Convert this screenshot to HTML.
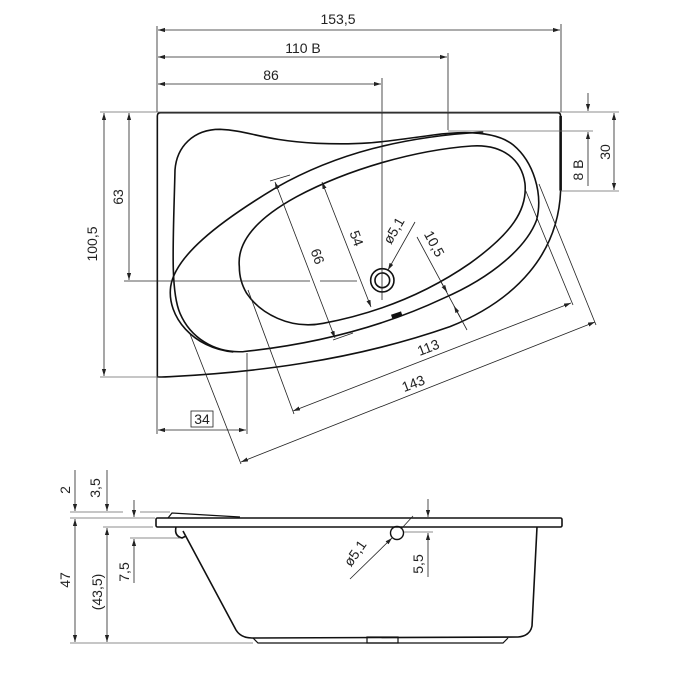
<!DOCTYPE html>
<html><head><meta charset="utf-8"><style>
html,body{margin:0;padding:0;background:#fff;}
svg{display:block}
text{font-family:"Liberation Sans",sans-serif;font-size:14px;fill:#222;}
</style></head><body>
<svg width="688" height="675" viewBox="0 0 688 675" xmlns="http://www.w3.org/2000/svg">
<defs>
<marker id="a" viewBox="0 0 10 10" refX="10" refY="5" markerWidth="7" markerHeight="7" orient="auto-start-reverse" markerUnits="userSpaceOnUse"><path d="M0,2 L10,5 L0,8 z" fill="#222"/></marker>
</defs>

<g transform="translate(150,100) scale(0.3333)" fill="none" stroke="#111" stroke-width="1.6">
<path vector-effect="non-scaling-stroke" d="M22,830 L22,48 Q22,38 32,38 L1222,38 Q1232,38 1232,48"/>
<path vector-effect="non-scaling-stroke" stroke-width="2.6" d="M1232,48 L1232,272"/>
<path vector-effect="non-scaling-stroke" d="M22,830 Q24,832 60,830 C300,818 600,785 900,680 C1100,600 1225,460 1232,272"/>
<path vector-effect="non-scaling-stroke" d="M75,210 C80,140 130,88 210,88 C300,92 330,120 500,130 C650,136 700,125 850,105 C950,92 1040,95 1090,135 C1150,185 1180,280 1160,360 C1130,440 1030,530 880,595 C720,670 520,730 280,755 C190,760 120,710 90,640 C60,570 70,420 75,210 Z"/>
<path vector-effect="non-scaling-stroke" d="M250,756 C130,745 50,650 62,560 C75,470 200,370 380,262 C560,160 760,110 1000,96"/>
<path vector-effect="non-scaling-stroke" d="M268,500 C260,420 330,350 440,290 C600,205 800,150 965,138 C1060,132 1115,180 1125,250 C1133,330 1085,400 960,490 C830,580 680,640 520,670 C420,690 330,640 290,580 C275,555 268,525 268,500 Z"/>
<circle vector-effect="non-scaling-stroke" cx="697" cy="541" r="35"/>
<circle vector-effect="non-scaling-stroke" cx="697" cy="541" r="22"/>
<path vector-effect="non-scaling-stroke" stroke-width="4" d="M725,650 L755,640"/>
</g>

<g stroke="#222" stroke-width="0.8" fill="none">
<line x1="157" y1="26" x2="157" y2="112"/>
<line x1="157" y1="377" x2="157" y2="434"/>
<line x1="561" y1="24" x2="561" y2="112"/>
<line x1="158" y1="30" x2="560" y2="30" marker-start="url(#a)" marker-end="url(#a)"/>
<line x1="158" y1="57" x2="447" y2="57" marker-start="url(#a)" marker-end="url(#a)"/>
<line x1="448" y1="53" x2="448" y2="130"/>
<line x1="158" y1="84" x2="381" y2="84" marker-start="url(#a)" marker-end="url(#a)"/>
<line x1="382" y1="78" x2="382" y2="300"/>
<line x1="100" y1="112" x2="619" y2="112" stroke="#666"/>
<line x1="100" y1="377" x2="157" y2="377" stroke="#666"/>
<line x1="104" y1="113" x2="104" y2="376" marker-start="url(#a)" marker-end="url(#a)"/>
<line x1="129" y1="113" x2="129" y2="280" marker-start="url(#a)" marker-end="url(#a)"/>
<line x1="124" y1="281" x2="310" y2="281"/>
<line x1="320" y1="281" x2="357" y2="281"/>
<line x1="448" y1="131" x2="593" y2="131" stroke="#666"/>
<line x1="561" y1="191" x2="619" y2="191" stroke="#666"/>
<line x1="614" y1="113" x2="614" y2="190" marker-start="url(#a)" marker-end="url(#a)"/>
<line x1="588" y1="93" x2="588" y2="111" marker-end="url(#a)"/>
<line x1="588" y1="186" x2="588" y2="132" marker-end="url(#a)"/>
<line x1="275" y1="182" x2="335" y2="338" marker-start="url(#a)" marker-end="url(#a)"/>
<line x1="270" y1="181" x2="290" y2="175"/>
<line x1="333" y1="340" x2="353" y2="333"/>
<line x1="322" y1="182" x2="371" y2="307" marker-start="url(#a)" marker-end="url(#a)"/>
<line x1="415" y1="222" x2="388" y2="270" marker-end="url(#a)"/>
<line x1="417" y1="237" x2="467" y2="330"/>
<line x1="441" y1="282" x2="447" y2="292" marker-end="url(#a)"/>
<line x1="460" y1="317" x2="454" y2="306" marker-end="url(#a)"/>
<line x1="248" y1="290" x2="294" y2="414"/>
<line x1="525" y1="189" x2="573" y2="305"/>
<line x1="293" y1="411" x2="571" y2="303" marker-start="url(#a)" marker-end="url(#a)"/>
<line x1="190" y1="334" x2="241" y2="464"/>
<line x1="539" y1="184" x2="596" y2="325"/>
<line x1="241" y1="462" x2="595" y2="322" marker-start="url(#a)" marker-end="url(#a)"/>
<line x1="247" y1="353" x2="247" y2="434"/>
<line x1="158" y1="430" x2="246" y2="430" marker-start="url(#a)" marker-end="url(#a)"/>
<rect x="191" y="411" width="22" height="16" stroke="#222"/>
</g>

<text x="338" y="24" text-anchor="middle">153,5</text>
<text x="303" y="53" text-anchor="middle">110  B</text>
<text x="271" y="80" text-anchor="middle">86</text>
<text transform="translate(97,244) rotate(-90)" text-anchor="middle">100,5</text>
<text transform="translate(123,197) rotate(-90)" text-anchor="middle">63</text>
<text transform="translate(610,152) rotate(-90)" text-anchor="middle">30</text>
<text transform="translate(583,170) rotate(-90)" text-anchor="middle">8 B</text>
<text transform="translate(313,258) rotate(70)" text-anchor="middle">66</text>
<text transform="translate(352,240) rotate(70)" text-anchor="middle">54</text>
<text transform="translate(398,233) rotate(-60)" text-anchor="middle">ø5,1</text>
<text transform="translate(430,246) rotate(62)" text-anchor="middle">10,5</text>
<text transform="translate(430,352) rotate(-21)" text-anchor="middle">113</text>
<text transform="translate(415,388) rotate(-21)" text-anchor="middle">143</text>
<text x="202" y="424" text-anchor="middle">34</text>

<g fill="none" stroke="#111" stroke-width="1.6">
<rect x="156" y="518" width="406" height="9" rx="1.5"/>
<path d="M168,518 L172,513 L240,517" stroke-width="1.2"/>
<path d="M176,527 Q174,536 182,538 L186,536"/>
<path d="M183,531 L236,630 Q241,638 252,638 L518,637 Q530,636 532,626 L537,527"/>
<path d="M253,638 L258,643 L503,643 L508,638" stroke-width="1.2"/>
<rect x="367" y="637" width="31" height="6" stroke-width="1.2"/>
<circle cx="397" cy="533" r="6.5" stroke-width="1.4"/>
</g>
<g stroke="#222" stroke-width="0.8" fill="none">
<line x1="350" y1="579" x2="392" y2="538" marker-end="url(#a)"/>
<line x1="402" y1="528" x2="413" y2="516"/>
<line x1="428" y1="499" x2="428" y2="517" marker-end="url(#a)"/>
<line x1="428" y1="577" x2="428" y2="533" marker-end="url(#a)"/>
<line x1="404" y1="532" x2="433" y2="532" stroke="#666"/>
<line x1="70" y1="512" x2="123" y2="512" stroke="#666"/>
<line x1="140" y1="512" x2="170" y2="512" stroke="#666"/>
<line x1="70" y1="518" x2="155" y2="518" stroke="#666"/>
<line x1="103" y1="527" x2="153" y2="527" stroke="#666"/>
<line x1="130" y1="538" x2="180" y2="538" stroke="#666"/>
<line x1="70" y1="643" x2="253" y2="643" stroke="#666"/>
<line x1="75" y1="470" x2="75" y2="511" marker-end="url(#a)"/>
<line x1="75" y1="519" x2="75" y2="642" marker-start="url(#a)" marker-end="url(#a)"/>
<line x1="107" y1="470" x2="107" y2="511" marker-end="url(#a)"/>
<line x1="107" y1="528" x2="107" y2="642" marker-start="url(#a)" marker-end="url(#a)"/>
<line x1="134" y1="500" x2="134" y2="517" marker-end="url(#a)"/>
<line x1="134" y1="583" x2="134" y2="539" marker-end="url(#a)"/>
</g>
<text transform="translate(70,490) rotate(-90)" text-anchor="middle">2</text>
<text transform="translate(100,488) rotate(-90)" text-anchor="middle">3,5</text>
<text transform="translate(70,580) rotate(-90)" text-anchor="middle">47</text>
<text transform="translate(102,592) rotate(-90)" text-anchor="middle">(43,5)</text>
<text transform="translate(129,572) rotate(-90)" text-anchor="middle">7,5</text>
<text transform="translate(359,556) rotate(-55)" text-anchor="middle">ø5,1</text>
<text transform="translate(423,564) rotate(-90)" text-anchor="middle">5,5</text>
</svg>
</body></html>
